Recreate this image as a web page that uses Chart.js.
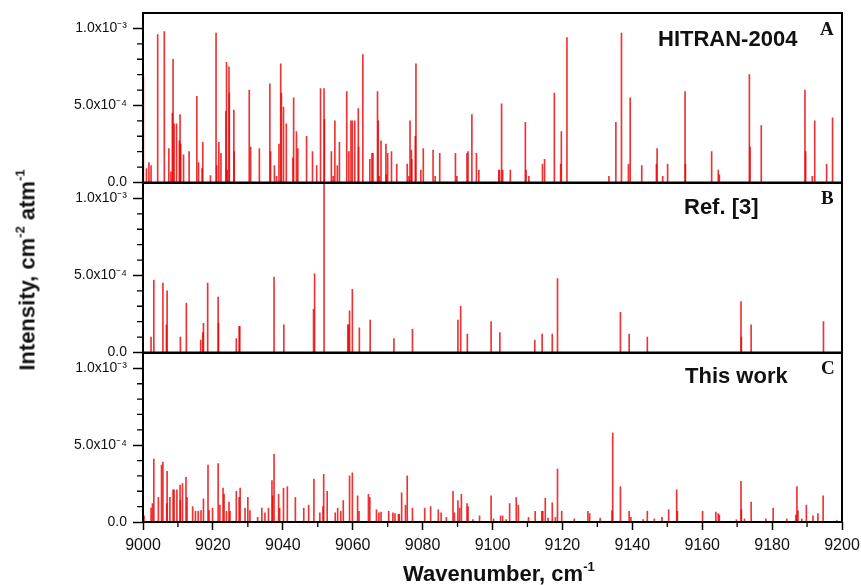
<!DOCTYPE html>
<html>
<head>
<meta charset="utf-8">
<script src="https://cdn.jsdelivr.net/npm/chart.js@4.4.0/dist/chart.umd.min.js"></script>
<style>
  body { margin: 0; background: #fff; width: 861px; height: 585px; position: relative; overflow: hidden;
         font-family: 'Liberation Sans', Arial, sans-serif; color: #111; }
  canvas { position: absolute; left: 0; }
  .lbl { position: absolute; font-weight: bold; font-size: 22px; line-height: 22px; white-space: nowrap; }
  .tag { position: absolute; font-family: 'Liberation Serif', 'Times New Roman', serif; font-weight: bold;
         font-size: 19px; line-height: 19px; }
  .sup { font-size: 13px; position: relative; top: -10px; }
</style>
</head>
<body>
<canvas id="panelA" width="861" height="200" style="top:0"></canvas>
<canvas id="panelB" width="861" height="205" style="top:165px"></canvas>
<canvas id="panelC" width="861" height="250" style="top:335px"></canvas>

<div class="lbl" style="left:658px; top:28px">HITRAN-2004</div>
<div class="tag" style="left:820px; top:19px">A</div>
<div class="lbl" style="left:684px; top:196px">Ref. [3]</div>
<div class="tag" style="left:821px; top:188px">B</div>
<div class="lbl" style="left:685px; top:365px">This work</div>
<div class="tag" style="left:821px; top:358px">C</div>

<div class="lbl" style="left:403px; top:563px">Wavenumber, cm<span class="sup">-1</span></div>
<div class="lbl" style="left:29px; top:270px; transform: translate(-50%, -50%) rotate(-90deg)">Intensity, cm<span class="sup">-2</span> atm<span class="sup">-1</span></div>

<script>
// axis ticks
const xTicks = [9000, 9020, 9040, 9060, 9080, 9100, 9120, 9140, 9160, 9180, 9200];
const yTickValues = [0, 5e-4, 1e-3];
const yTickLabels = ['0.0', '5.0x10\u207B\u2074', '1.0x10\u207B\u00B3'];

// A: HITRAN-2004 lines, wavenumber (cm-1) and intensity (cm-2 atm-1)
const hitranWn = [
  9000.1, 9001.0, 9001.7, 9002.3, 9004.2, 9006.1, 9007.4, 9008.0, 9008.4, 9008.6, 9008.9, 9009.6,
  9010.4, 9010.6, 9010.8, 9011.6, 9013.2, 9015.4, 9015.9, 9016.9, 9017.1, 9019.3, 9020.9, 9021.1,
  9021.7, 9022.3, 9023.7, 9023.9, 9024.1, 9024.6, 9024.7, 9026.0, 9026.1, 9030.4, 9030.8, 9033.3,
  9036.3, 9036.5, 9037.6, 9038.2, 9038.9, 9039.4, 9039.6, 9040.2, 9041.0, 9042.9, 9043.1, 9043.9,
  9044.3, 9046.8, 9048.5, 9049.7, 9050.8, 9051.8, 9051.9, 9053.9, 9054.4, 9054.9, 9055.6, 9056.2,
  9058.3, 9058.9, 9059.5, 9059.9, 9060.6, 9061.6, 9061.7, 9062.9, 9064.9, 9065.5, 9065.8, 9067.1,
  9067.3, 9067.6, 9068.1, 9069.5, 9069.6, 9070.0, 9071.1, 9072.6, 9075.6, 9076.1, 9076.4, 9076.8,
  9076.9, 9077.9, 9078.1, 9079.5, 9080.2, 9083.0, 9083.6, 9084.9, 9089.4, 9089.8, 9092.7, 9093.0,
  9094.1, 9095.4, 9096.1, 9101.8, 9102.0, 9102.6, 9102.9, 9105.1, 9109.4, 9109.6, 9110.4, 9114.3,
  9114.9, 9117.7, 9119.5, 9119.7, 9121.3, 9133.3, 9135.3, 9136.9, 9138.9, 9139.4, 9142.7, 9146.9,
  9147.1, 9148.7, 9150.1, 9155.1, 9155.2, 9162.7, 9164.6, 9164.9, 9173.5, 9173.7, 9176.9, 9189.4,
  9189.6, 9191.5, 9192.2, 9195.6, 9197.3
];
const hitranInt = [
  6.9e-4, 0.9e-4, 1.3e-4, 1.1e-4, 9.6e-4, 9.8e-4, 2.2e-4, 0.7e-4, 4.5e-4, 8.0e-4, 3.8e-4, 3.8e-4,
  2.7e-4, 4.4e-4, 2.5e-4, 1.8e-4, 2.0e-4, 5.6e-4, 1.3e-4, 0.9e-4, 2.6e-4, 0.45e-4, 9.7e-4, 1.1e-4,
  2.6e-4, 1.9e-4, 4.6e-4, 7.8e-4, 0.8e-4, 7.5e-4, 5.8e-4, 4.7e-4, 2.0e-4, 6.0e-4, 2.3e-4, 2.2e-4,
  6.4e-4, 2.0e-4, 1.1e-4, 0.4e-4, 2.5e-4, 7.7e-4, 5.8e-4, 4.9e-4, 3.8e-4, 1.6e-4, 5.5e-4, 3.3e-4,
  2.2e-4, 3.0e-4, 2.0e-4, 1.1e-4, 6.1e-4, 6.1e-4, 4.1e-4, 2.0e-4, 0.4e-4, 4.0e-4, 1.1e-4, 2.6e-4,
  5.9e-4, 2.0e-4, 4.0e-4, 4.0e-4, 4.0e-4, 4.8e-4, 2.3e-4, 8.3e-4, 1.5e-4, 1.9e-4, 1.9e-4, 5.9e-4,
  4.0e-4, 0.4e-4, 2.7e-4, 2.5e-4, 0.5e-4, 1.9e-4, 2.0e-4, 1.2e-4, 1.2e-4, 0.4e-4, 4.0e-4, 2.1e-4,
  1.5e-4, 3.0e-4, 7.7e-4, 0.8e-4, 2.2e-4, 2.1e-4, 0.4e-4, 1.9e-4, 1.9e-4, 0.4e-4, 1.9e-4, 2.0e-4,
  4.4e-4, 1.9e-4, 0.8e-4, 0.8e-4, 0.8e-4, 5.1e-4, 0.8e-4, 0.8e-4, 3.9e-4, 0.8e-4, 0.4e-4, 1.2e-4,
  1.5e-4, 5.8e-4, 1.2e-4, 3.3e-4, 9.4e-4, 0.4e-4, 3.9e-4, 9.7e-4, 1.2e-4, 5.5e-4, 1.1e-4, 1.2e-4,
  2.2e-4, 0.4e-4, 1.2e-4, 5.9e-4, 1.2e-4, 2.0e-4, 0.8e-4, 0.5e-4, 7.0e-4, 2.3e-4, 3.7e-4, 6.0e-4,
  2.0e-4, 0.4e-4, 4.0e-4, 1.2e-4, 4.2e-4
];

// B: Ref. [3] lines
const refWn = [
  9002.3, 9003.1, 9005.7, 9006.7, 9006.9, 9010.7, 9012.4, 9016.5, 9017.1, 9017.3, 9018.5, 9021.5,
  9021.6, 9026.7, 9027.5, 9027.7, 9037.5, 9040.3, 9048.8, 9049.1, 9051.8, 9058.6, 9058.9, 9059.1,
  9059.9, 9061.9, 9065.0, 9071.8, 9077.1, 9090.1, 9090.9, 9092.8, 9099.6, 9102.1, 9112.1, 9114.2,
  9117.1, 9118.6, 9136.6, 9139.1, 9144.3, 9171.1, 9171.2, 9174.0, 9194.7
];
const refInt = [
  1.0e-4, 4.7e-4, 4.5e-4, 1.8e-4, 4.0e-4, 1.0e-4, 3.2e-4, 0.8e-4, 1.3e-4, 1.9e-4, 4.5e-4, 3.6e-4,
  1.9e-4, 0.9e-4, 1.7e-4, 1.7e-4, 4.9e-4, 1.8e-4, 2.8e-4, 5.1e-4, 11.0e-4, 1.8e-4, 1.8e-4, 2.7e-4,
  4.1e-4, 1.6e-4, 2.1e-4, 0.9e-4, 1.5e-4, 2.1e-4, 3.0e-4, 1.2e-4, 2.0e-4, 1.3e-4, 0.8e-4, 1.2e-4,
  1.2e-4, 4.8e-4, 2.6e-4, 1.2e-4, 1.0e-4, 3.3e-4, 1.0e-4, 1.8e-4, 2.0e-4
];

// C: this work
const workWn = [
  9000.3, 9002.3, 9002.7, 9003.1, 9004.4, 9005.3, 9005.7, 9006.8, 9006.9, 9007.7, 9008.6, 9008.9,
  9009.7, 9010.6, 9010.7, 9011.3, 9012.3, 9012.6, 9014.2, 9015.0, 9015.8, 9016.6, 9017.3, 9018.6,
  9018.9, 9019.9, 9021.5, 9022.0, 9022.9, 9023.2, 9023.9, 9024.6, 9024.9, 9026.7, 9027.5, 9027.8,
  9029.2, 9030.0, 9030.6, 9032.8, 9034.0, 9034.9, 9035.9, 9036.9, 9037.1, 9037.5, 9038.8, 9039.1,
  9040.2, 9041.3, 9043.6, 9046.0, 9047.4, 9048.9, 9050.6, 9051.5, 9051.7, 9052.7, 9055.0, 9055.7,
  9056.6, 9057.3, 9059.1, 9059.9, 9061.4, 9061.8, 9064.5, 9064.9, 9066.8, 9067.5, 9068.1, 9070.3,
  9071.5, 9072.1, 9073.1, 9073.3, 9074.0, 9075.1, 9075.6, 9077.1, 9080.6, 9082.3, 9084.5, 9085.3,
  9086.8, 9088.7, 9089.1, 9090.1, 9090.6, 9091.1, 9092.7, 9093.0, 9094.4, 9096.3, 9099.6, 9100.3,
  9102.3, 9102.9, 9103.9, 9104.9, 9106.8, 9107.4, 9110.3, 9112.2, 9114.1, 9114.4, 9115.1, 9115.9,
  9117.1, 9118.0, 9118.6, 9119.8, 9123.4, 9127.3, 9127.8, 9130.8, 9134.2, 9134.4, 9136.6, 9139.1,
  9139.6, 9143.1, 9144.3, 9146.3, 9148.5, 9150.4, 9152.7, 9152.9, 9160.1, 9163.9, 9164.6, 9164.9,
  9169.8, 9171.1, 9171.2, 9172.1, 9174.0, 9178.2, 9180.3, 9184.2, 9186.8, 9187.1, 9187.4, 9188.5,
  9189.8, 9191.7, 9193.1, 9194.6, 9198.5
];
const workInt = [
  0.4e-4, 0.9e-4, 1.2e-4, 4.1e-4, 1.6e-4, 3.7e-4, 3.9e-4, 1.2e-4, 3.3e-4, 1.6e-4, 2.1e-4, 2.1e-4,
  2.1e-4, 2.4e-4, 1.4e-4, 2.5e-4, 2.9e-4, 1.6e-4, 1.0e-4, 0.7e-4, 0.7e-4, 0.75e-4, 1.5e-4, 3.7e-4,
  0.75e-4, 0.9e-4, 3.8e-4, 1.1e-4, 2.2e-4, 1.8e-4, 0.7e-4, 1.3e-4, 0.7e-4, 2.0e-4, 1.6e-4, 2.2e-4,
  0.9e-4, 1.6e-4, 0.75e-4, 0.3e-4, 0.9e-4, 0.6e-4, 0.9e-4, 2.7e-4, 1.7e-4, 4.4e-4, 1.8e-4, 0.9e-4,
  2.2e-4, 2.3e-4, 1.6e-4, 0.9e-4, 1.1e-4, 2.8e-4, 0.6e-4, 1.0e-4, 3.1e-4, 2.0e-4, 0.6e-4, 0.9e-4,
  0.7e-4, 1.4e-4, 3.0e-4, 3.2e-4, 1.7e-4, 0.7e-4, 1.8e-4, 1.6e-4, 0.8e-4, 0.6e-4, 0.65e-4, 0.7e-4,
  0.6e-4, 0.55e-4, 0.5e-4, 0.5e-4, 1.9e-4, 1.1e-4, 3.0e-4, 0.9e-4, 0.9e-4, 1.0e-4, 0.8e-4, 0.6e-4,
  0.3e-4, 2.0e-4, 0.6e-4, 1.4e-4, 0.9e-4, 1.8e-4, 1.2e-4, 1.0e-4, 0.15e-4, 0.4e-4, 1.7e-4, 0.2e-4,
  0.4e-4, 0.4e-4, 0.15e-4, 1.2e-4, 1.6e-4, 1.1e-4, 0.3e-4, 0.7e-4, 0.7e-4, 0.7e-4, 1.55e-4, 0.25e-4,
  1.25e-4, 0.3e-4, 3.45e-4, 0.7e-4, 0.2e-4, 0.7e-4, 0.55e-4, 0.25e-4, 0.75e-4, 5.8e-4, 2.3e-4, 0.7e-4,
  0.3e-4, 0.15e-4, 0.7e-4, 0.2e-4, 0.3e-4, 0.8e-4, 2.1e-4, 0.7e-4, 0.7e-4, 0.65e-4, 0.55e-4, 0.45e-4,
  0.15e-4, 2.65e-4, 0.8e-4, 0.2e-4, 1.3e-4, 0.2e-4, 0.9e-4, 0.2e-4, 0.45e-4, 2.3e-4, 0.75e-4, 0.2e-4,
  1.1e-4, 0.4e-4, 0.55e-4, 1.7e-4, 0.1e-4
];

Chart.defaults.font.family = "'Liberation Sans', Arial, sans-serif";
Chart.defaults.color = '#111';

// box around each panel plus the short minor ticks
const frameAndMinorTicks = {
  id: 'frameAndMinorTicks',
  afterDraw(chart, args, opts) {
    const { ctx, chartArea: a, scales } = chart;
    ctx.save();
    ctx.strokeStyle = '#000';
    ctx.lineWidth = 1.3;
    ctx.beginPath();
    for (let i = 1; i < 11; i++) {
      if (i % 5 === 0) continue;
      const y = scales.y.getPixelForValue(i * 1e-4);
      ctx.moveTo(a.left - 6, y);
      ctx.lineTo(a.left, y);
    }
    if (opts.xMinor) {
      for (let v = 9010; v < 9200; v += 20) {
        const x = scales.x.getPixelForValue(v);
        ctx.moveTo(x, a.bottom);
        ctx.lineTo(x, a.bottom + 5);
      }
    }
    ctx.stroke();
    ctx.lineWidth = 2;
    ctx.strokeRect(a.left, a.top, a.right - a.left, a.bottom - a.top);
    ctx.restore();
  }
};

function makePanel(id, wn, inten, padTop, padBottom, showX) {
  const points = wn.map((x, i) => ({ x: x, y: inten[i] }));
  return new Chart(document.getElementById(id), {
    type: 'bar',
    data: {
      datasets: [{
        data: points,
        backgroundColor: 'rgba(232,0,0,0.8)',
        borderWidth: 0,
        barThickness: 1
      }]
    },
    options: {
      responsive: false,
      animation: false,
      layout: { autoPadding: false, padding: { top: padTop, bottom: padBottom, left: 0, right: 19 } },
      plugins: {
        legend: { display: false },
        tooltip: { enabled: false },
        frameAndMinorTicks: { xMinor: showX }
      },
      scales: {
        x: {
          type: 'linear',
          min: 9000,
          max: 9200,
          offset: false,
          display: showX,
          afterFit: s => {
            s.height = showX ? 63 : 0;
            s.paddingLeft = 0;
            s.paddingRight = 0;
          },
          afterBuildTicks: s => { s.ticks = xTicks.map(v => ({ value: v })); },
          grid: { offset: false, drawOnChartArea: false, tickLength: 8, tickColor: '#000', tickWidth: 1.5 },
          border: { display: false },
          ticks: { autoSkip: false, maxRotation: 0, padding: 6, font: { size: 16 }, callback: v => String(v) }
        },
        y: {
          min: 0,
          max: 1.1e-3,
          afterFit: s => {
            s.width = 143;
            s.paddingTop = 0;
            s.paddingBottom = 0;
          },
          afterBuildTicks: s => { s.ticks = yTickValues.map(v => ({ value: v })); },
          grid: { drawOnChartArea: false, tickLength: 10, tickColor: '#000', tickWidth: 1.5 },
          border: { display: false },
          ticks: { padding: 6, font: { size: 14 }, callback: (v, i) => yTickLabels[i] }
        }
      }
    },
    plugins: [frameAndMinorTicks]
  });
}

makePanel('panelA', hitranWn, hitranInt, 13, 17.5, false);
makePanel('panelB', refWn, refInt, 18, 17.5, false);
makePanel('panelC', workWn, workInt, 18, 0, true);
</script>
</body>
</html>
